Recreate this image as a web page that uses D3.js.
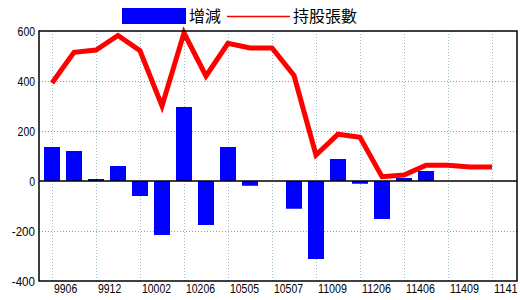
<!DOCTYPE html>
<html>
<head>
<meta charset="utf-8">
<script src="https://cdn.jsdelivr.net/npm/d3@7"></script>
<style>
	body { margin: 0; background: #fff; }
	text { font-family: "Liberation Sans", Arial, sans-serif; }
</style>
</head>
<body>
<svg id="chart"></svg>
<script>
'use strict'

var months = ["9906", "9909", "9912", "10001", "10002", "10106", "10206", "10406", "10505", "10506",
	"10507", "10606", "11009", "11106", "11206", "11306", "11406", "11407", "11409", "11410", "11411"];
var changes = [136, 120, 8, 60, -60, -216, 296, -176, 136, -19,
	0, -111, -312, 88, -11, -152, 12, 40, 0, 0, 0];
var holdings = [392, 515, 524, 582, 521, 300, 592, 420, 551, 532,
	532, 422, 104, 187, 175, 17, 24, 63, 63, 56, 56];
var yTicks = [-400, -200, 0, 200, 400, 600];

var WIDTH = 520,
	HEIGHT = 300;

var margin = { top: 31, right: 3, bottom: 19, left: 39 };
var plotW = WIDTH - margin.left - margin.right,
	plotH = HEIGHT - margin.top - margin.bottom;

// the reference font is narrow, squeeze glyphs to this width per char
var charW = 5.8;

var svg = d3.select("#chart")
	.attr("width", WIDTH)
	.attr("height", HEIGHT)

// labels past the frame get cut off
svg.append("clipPath")
	.attr("id", "label-clip")
	.append("rect")
	.attr("x", 0).attr("y", 0)
	.attr("width", margin.left + plotW).attr("height", HEIGHT)

var g = svg.append("g")
	.attr("transform", "translate(" + margin.left + "," + margin.top + ")")

var x = d3.scalePoint()
	.domain(months)
	.range([13, plotW - 25])

var y = d3.scaleLinear()
	.domain([-400, 600])
	.range([plotH, 0])

// horizontal grid
g.selectAll(".hgrid")
	.data(yTicks.filter(function(d) { return d != 0 && d != 600 && d != -400 }))
	.enter().append("line")
	.attr("x1", 0).attr("x2", plotW)
	.attr("y1", function(d) { return y(d) + 0.5 })
	.attr("y2", function(d) { return y(d) + 0.5 })
	.style("stroke", "#999")
	.style("stroke-dasharray", "1,2")

// vertical grid at labelled months
var labelled = months.filter(function(d, i) { return i % 2 == 0 })

g.selectAll(".vgrid")
	.data(labelled)
	.enter().append("line")
	.attr("x1", function(d) { return x(d) + 0.5 })
	.attr("x2", function(d) { return x(d) + 0.5 })
	.attr("y1", 0).attr("y2", plotH)
	.style("stroke", "#9bbccc")
	.style("stroke-dasharray", "1,2")

// bars
var barW = 16;
g.selectAll(".bar")
	.data(changes)
	.enter().append("rect")
	.attr("x", function(d, i) { return x(months[i]) - barW / 2 })
	.attr("y", function(d) { return y(Math.max(0, d)) })
	.attr("width", barW)
	.attr("height", function(d) { return Math.abs(y(d) - y(0)) })
	.style("fill", "#0000ff")

// zero line
g.append("line")
	.attr("x1", 0).attr("x2", plotW)
	.attr("y1", y(0)).attr("y2", y(0))
	.style("stroke", "#000")
	.style("stroke-width", 1.5)

// holdings line
var line = d3.line()
	.x(function(d, i) { return x(months[i]) })
	.y(function(d) { return y(d) })

g.append("path")
	.attr("d", line(holdings))
	.style("fill", "none")
	.style("stroke", "#ff0000")
	.style("stroke-width", 5)
	.style("stroke-linejoin", "miter")

// frame
g.append("rect")
	.attr("x", 0).attr("y", 0)
	.attr("width", plotW).attr("height", plotH)
	.style("fill", "none")
	.style("stroke", "#000")
	.style("stroke-width", 1.5)

// y labels
g.selectAll(".ylab")
	.data(yTicks)
	.enter().append("text")
	.attr("x", -4)
	.attr("y", function(d) { return y(d) + 4.5 })
	.attr("text-anchor", "end")
	.attr("textLength", function(d) { return String(d).length * charW })
	.attr("lengthAdjust", "spacingAndGlyphs")
	.style("font-size", "13px")
	.text(function(d) { return d })

// x labels, left aligned on the grid line
svg.append("g")
	.attr("clip-path", "url(#label-clip)")
	.selectAll(".xlab")
	.data(labelled)
	.enter().append("text")
	.attr("x", function(d) { return margin.left + x(d) + 2 })
	.attr("y", margin.top + plotH + 12)
	.attr("textLength", function(d) { return d.length * charW })
	.attr("lengthAdjust", "spacingAndGlyphs")
	.style("font-size", "13px")
	.text(function(d) { return d })

// legend
var legend = svg.append("g")

legend.append("rect")
	.attr("x", 122).attr("y", 8)
	.attr("width", 64).attr("height", 16)
	.style("fill", "#0000ff")

legend.append("text")
	.attr("x", 189).attr("y", 22)
	.style("font-family", "'Noto Sans CJK TC', sans-serif")
	.style("font-size", "16px")
	.text("增減")

legend.append("line")
	.attr("x1", 227).attr("x2", 290)
	.attr("y1", 16.5).attr("y2", 16.5)
	.style("stroke", "#ff0000")
	.style("stroke-width", 1.5)

legend.append("text")
	.attr("x", 293).attr("y", 22)
	.style("font-family", "'Noto Sans CJK TC', sans-serif")
	.style("font-size", "16px")
	.text("持股張數")
</script>
</body>
</html>
